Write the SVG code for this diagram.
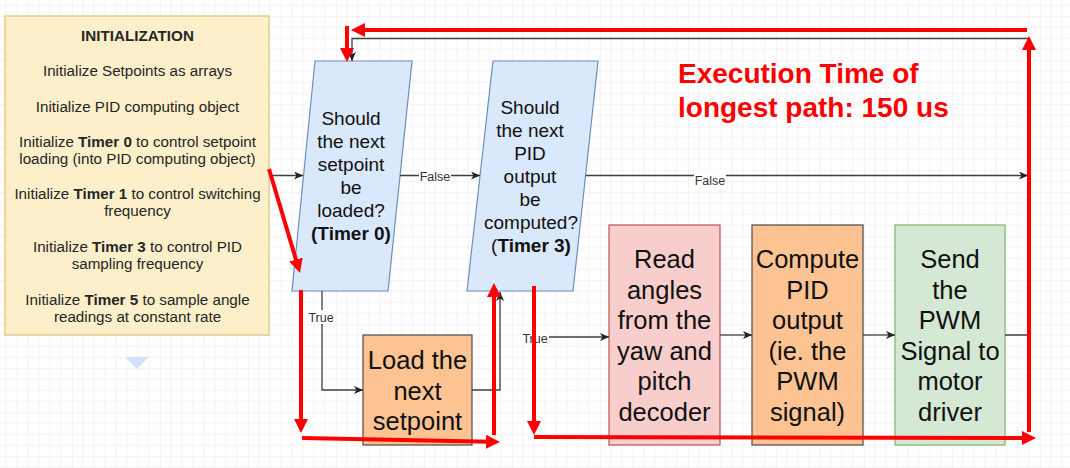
<svg xmlns="http://www.w3.org/2000/svg" width="1070" height="468" viewBox="0 0 1070 468">
<style>
  text { font-family: "Liberation Sans", Arial, sans-serif; }
  .init { font-size: 15.2px; fill: #262626; text-anchor: middle; }
  .dec { font-size: 19px; fill: #111; text-anchor: middle; }
  .box { font-size: 25.5px; fill: #111; text-anchor: middle; }
  .lbl { font-size: 12.5px; fill: #333; text-anchor: middle; }
  .b { font-weight: bold; }
  .conn { fill: none; stroke: #404040; stroke-width: 1.3; }
  .red { fill: none; stroke: #ff0000; stroke-width: 4; marker-end: url(#ra); }
  .lblbg { fill: #ffffff; }
</style>
<defs>
  <pattern id="grid" patternUnits="userSpaceOnUse" x="27.7" y="16.3" width="44" height="44">
    <path d="M11,0 V44 M22,0 V44 M33,0 V44 M0,11 H44 M0,22 H44 M0,33 H44" stroke="#f2f2f2" stroke-width="1" fill="none"/>
    <path d="M0,0 V44 M0,0 H44" stroke="#e3e3e3" stroke-width="1" fill="none"/>
  </pattern>
  <marker id="ba" markerUnits="userSpaceOnUse" markerWidth="10" markerHeight="9" refX="9" refY="4" orient="auto">
    <path d="M0,0 L9,4 L0,8 L2.5,4 z" fill="#222"/>
  </marker>
  <marker id="ra" markerUnits="userSpaceOnUse" markerWidth="16" markerHeight="16" refX="4" refY="7" orient="auto">
    <path d="M0,0 L14,7 L0,14 z" fill="#ff0000"/>
  </marker>
</defs>
<rect width="1070" height="468" fill="#ffffff"/>
<rect width="1070" height="468" fill="url(#grid)"/>

<g id="init">
  <rect x="5" y="16" width="264" height="319" fill="#fcefc9" stroke="#dcc27a" stroke-width="1.2"/>
  <text class="init b" x="137.5" y="41">INITIALIZATION</text>
  <text class="init" x="137.5" y="76">Initialize Setpoints as arrays</text>
  <text class="init" x="137.5" y="112">Initialize PID computing object</text>
  <text class="init" x="137.5" y="147">Initialize <tspan class="b">Timer 0</tspan> to control setpoint</text>
  <text class="init" x="137.5" y="164">loading (into PID computing object)</text>
  <text class="init" x="137.5" y="199">Initialize <tspan class="b">Timer 1</tspan> to control switching</text>
  <text class="init" x="137.5" y="216">frequency</text>
  <text class="init" x="137.5" y="252">Initialize <tspan class="b">Timer 3</tspan> to control PID</text>
  <text class="init" x="137.5" y="269">sampling frequency</text>
  <text class="init" x="137.5" y="305">Initialize <tspan class="b">Timer 5</tspan> to sample angle</text>
  <text class="init" x="137.5" y="322">readings at constant rate</text>
</g>

<g id="hint">
  <polygon points="125,357 149,357 137,369" fill="#cfe2f8"/>
</g>

<g id="decision1">
  <polygon points="315,61 412,61 388,291 292,291" fill="#dae8fc" stroke="#6c8ebf" stroke-width="1.2"/>
  <text class="dec" x="351" y="125">Should</text>
  <text class="dec" x="351" y="148">the next</text>
  <text class="dec" x="351" y="171">setpoint</text>
  <text class="dec" x="351" y="194">be</text>
  <text class="dec" x="351" y="217">loaded?</text>
  <text class="dec b" x="351" y="240">(Timer 0)</text>
</g>

<g id="decision2">
  <polygon points="493,61 598,61 573,291 467,291" fill="#dae8fc" stroke="#6c8ebf" stroke-width="1.2"/>
  <text class="dec" x="530" y="114">Should</text>
  <text class="dec" x="530" y="137">the next</text>
  <text class="dec" x="530" y="160">PID</text>
  <text class="dec" x="530" y="183">output</text>
  <text class="dec" x="530" y="206">be</text>
  <text class="dec" x="531" y="229">computed?</text>
  <text class="dec" x="531" y="252">(<tspan class="b">Timer 3)</tspan></text>
</g>

<g id="load">
  <rect x="363" y="335" width="109" height="110" fill="#fdc392" stroke="#4a4a4a" stroke-width="1.2"/>
  <text class="box" x="417.5" y="369">Load the</text>
  <text class="box" x="417.5" y="399.5">next</text>
  <text class="box" x="417.5" y="430">setpoint</text>
</g>

<g id="read">
  <rect x="609" y="225" width="111" height="220" fill="#f8cecc" stroke="#b85450" stroke-width="1.2"/>
  <text class="box" x="664.5" y="268">Read</text>
  <text class="box" x="664.5" y="298.6">angles</text>
  <text class="box" x="664.5" y="329.2">from the</text>
  <text class="box" x="664.5" y="359.8">yaw and</text>
  <text class="box" x="664.5" y="390.4">pitch</text>
  <text class="box" x="664.5" y="421">decoder</text>
</g>

<g id="compute">
  <rect x="752" y="225" width="111" height="220" fill="#fdc392" stroke="#4a4a4a" stroke-width="1.2"/>
  <text class="box" x="807.5" y="268">Compute</text>
  <text class="box" x="807.5" y="298.6">PID</text>
  <text class="box" x="807.5" y="329.2">output</text>
  <text class="box" x="807.5" y="359.8">(ie. the</text>
  <text class="box" x="807.5" y="390.4">PWM</text>
  <text class="box" x="807.5" y="421">signal)</text>
</g>

<g id="send">
  <rect x="895" y="225" width="110" height="220" fill="#d5e8d4" stroke="#82b366" stroke-width="1.2"/>
  <text class="box" x="950" y="268">Send</text>
  <text class="box" x="950" y="298.6">the</text>
  <text class="box" x="950" y="329.2">PWM</text>
  <text class="box" x="950" y="359.8">Signal to</text>
  <text class="box" x="950" y="390.4">motor</text>
  <text class="box" x="950" y="421">driver</text>
</g>

<g id="connectors">
  <path class="conn" d="M269,175.5 H303" marker-end="url(#ba)"/>
  <path class="conn" d="M400,175.5 H480" marker-end="url(#ba)"/>
  <path class="conn" d="M585.5,175.5 H1028" marker-end="url(#ba)"/>
  <path class="conn" d="M1005,335 H1028 V38.5 H352 V61" marker-end="url(#ba)"/>
  <path class="conn" d="M322,291 V390 H363" marker-end="url(#ba)"/>
  <path class="conn" d="M472,390 H500 V292" marker-end="url(#ba)"/>
  <path class="conn" d="M535,291 V337 H609" marker-end="url(#ba)"/>
  <path class="conn" d="M720,335 H752" marker-end="url(#ba)"/>
  <path class="conn" d="M863,335 H895" marker-end="url(#ba)"/>
  <rect class="lblbg" x="419" y="169" width="32" height="14"/>
  <text class="lbl" x="435" y="181">False</text>
  <rect class="lblbg" x="694" y="170" width="32" height="16"/>
  <text class="lbl" x="710" y="185">False</text>
  <rect class="lblbg" x="308" y="310" width="27" height="14"/>
  <text class="lbl" x="321" y="322">True</text>
  <rect class="lblbg" x="522" y="331" width="27" height="14"/>
  <text class="lbl" x="535" y="343">True</text>
</g>

<g id="annotation">
  <path class="red" d="M1027,30 H361"/>
  <path class="red" d="M347,26 V52"/>
  <path class="red" d="M269,169 L297.1,263.4"/>
  <path class="red" d="M301,290 V423"/>
  <path class="red" d="M302,438 L490,441.8"/>
  <path class="red" d="M494,435 V293"/>
  <path class="red" d="M534,286 V425"/>
  <path class="red" d="M534,437 L1026,438"/>
  <path class="red" d="M1029,432 V46"/>
  <text x="678" y="83" font-size="28" font-weight="bold" fill="#ff0000">Execution Time of</text>
  <text x="678" y="117" font-size="28" font-weight="bold" fill="#ff0000">longest path: 150 us</text>
</g>
</svg>
